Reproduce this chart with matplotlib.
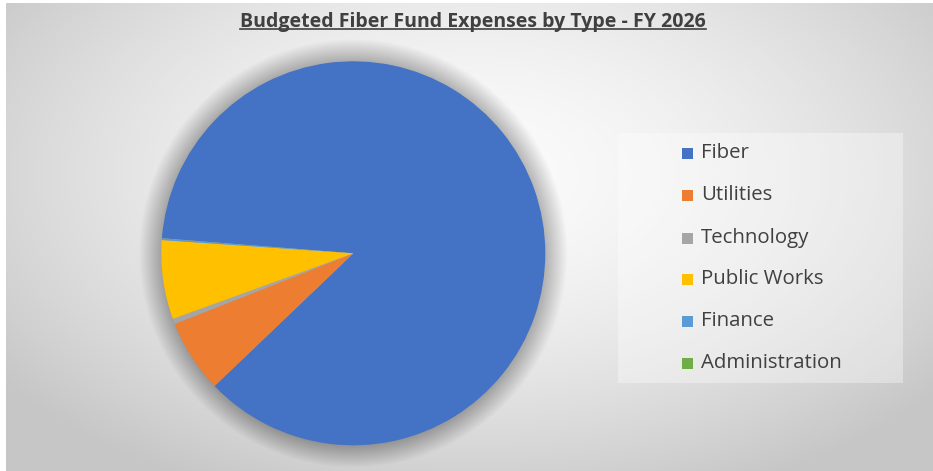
import numpy as np
import matplotlib.pyplot as plt
from matplotlib.patches import Circle, Rectangle

# Budget share by expense type (percent of fund)
categories = ["Fiber", "Utilities", "Technology", "Public Works", "Finance", "Administration"]
shares = [86.6, 6.15, 0.45, 6.65, 0.14, 0.01]
colors = ["#4472C4", "#ED7D31", "#A5A5A5", "#FFC000", "#5B9BD5", "#70AD47"]
title = "Budgeted Fiber Fund Expenses by Type - FY 2026"

W, H = 933, 471
fig = plt.figure(figsize=(W / 100, H / 100), dpi=100)
fig.patch.set_facecolor("white")

# radial gray gradient behind the chart area
bg = fig.add_axes([6 / W, 0, 1 - 6 / W, 1 - 3 / H])
bg.set_axis_off()
yy, xx = np.mgrid[0:H - 3, 0:W - 6]
d = np.sqrt(((xx - 470) / 560.0) ** 2 + ((yy - 170) / 330.0) ** 2)
shade = np.clip(0.985 - 0.19 * d ** 1.6, 0.78, 0.985)
bg.imshow(np.dstack([shade] * 3), aspect="auto", interpolation="bilinear")

# pie axes: centre (353, 253) px, radius 192 px
cx, cy, r = 353.3, 253.3, 192
ax = fig.add_axes([(cx - r) / W, (H - cy - r) / H, 2 * r / W, 2 * r / H])
ax.set_axis_off()

# soft glow around the pie
for k in range(34):
    ax.add_patch(Circle((0, 0), 1 + k * 0.0035, color="black", alpha=0.0065,
                        lw=0, clip_on=False, zorder=0))

ax.pie(shares, colors=colors, startangle=175.5, counterclock=False,
       radius=1, wedgeprops=dict(linewidth=0))
ax.set_xlim(-1, 1)
ax.set_ylim(-1, 1)

# title with underline
t = fig.text(473 / W, 1 - 22 / H, title, ha="center", va="center",
             fontsize=14, fontweight="bold", color="#404040", family="Open Sans")
fig.canvas.draw()
bb = t.get_window_extent().transformed(fig.transFigure.inverted())
fig.add_artist(plt.Line2D([bb.x0, bb.x1], [bb.y0 + 0.006, bb.y0 + 0.006],
                          color="#404040", lw=1.2, transform=fig.transFigure))

# legend panel
fig.add_artist(Rectangle((618 / W, 1 - 383 / H), 285 / W, 250 / H,
                         transform=fig.transFigure, facecolor="white",
                         alpha=0.35, lw=0))
row_y = [153, 195, 238, 279, 321, 363]
for name, col, y in zip(categories, colors, row_y):
    fig.add_artist(Rectangle((682 / W, 1 - (y + 5.5) / H), 11 / W, 11 / H,
                             transform=fig.transFigure, facecolor=col, lw=0))
    fig.text(701 / W, 1 - y / H, name, ha="left", va="center",
             fontsize=14.7, color="#404040", family="Open Sans")

fig.savefig("out.png", dpi=100)
